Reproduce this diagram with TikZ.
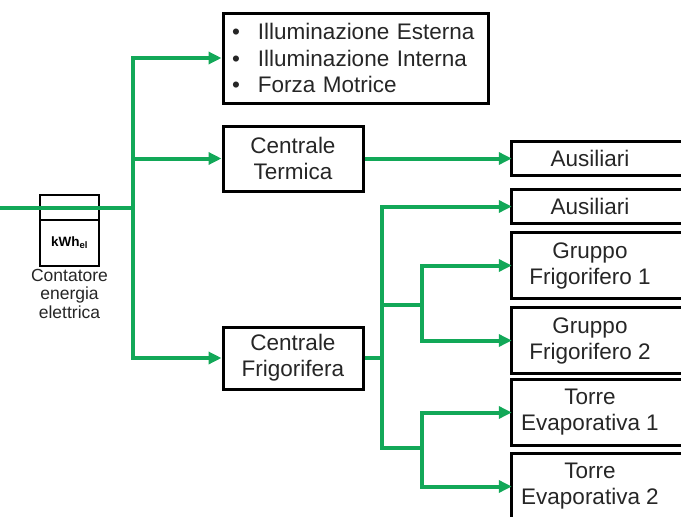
\documentclass[tikz,border=0pt]{standalone}
\usepackage{fontspec}
\setmainfont{Liberation Sans}
\usetikzlibrary{arrows.meta, positioning}
\definecolor{feed}{RGB}{18,168,88}
\tikzstyle{line} = [draw, color=feed, line width=4pt]
\tikzstyle{flow} = [line, -{Triangle[length=13pt,width=12pt]}]
\tikzstyle{box} = [rectangle, draw, line width=3pt, align=center, text=black!85,
  font=\fontsize{22.5}{26}\selectfont, inner sep=0pt]
\tikzstyle{user} = [rectangle, align=center, text=black!85, minimum width=156pt,
  font=\fontsize{22.5}{26}\selectfont, inner sep=0pt]
\tikzstyle{rim} = [draw, line width=3pt]
\tikzstyle{meter} = [rectangle, draw, line width=2pt, minimum width=59pt,
  inner sep=0pt, outer sep=0pt]

\begin{document}
\begin{tikzpicture}[x=1pt, y=-1pt]
    \useasboundingbox (0,0) rectangle (681,517);
    \clip (0,0) rectangle (681,517);

    \node [meter, minimum height=25pt] (meterTop) at (69.5,207.5) {};
    \node [meter, minimum height=46pt, below=0pt of meterTop,
      font=\fontsize{13.5}{13.5}\selectfont\bfseries] (meterBox) {kWh\textsubscript{el}};
    \node [below=3pt of meterBox, align=center, inner sep=0pt, text=black!85,
      font=\fontsize{17.5}{18.5}\selectfont] (meterLabel) {Contatore\\energia\\elettrica};

    \node [box, text width=247pt, inner xsep=9pt, minimum height=90pt, align=left,
      font=\fontsize{22.5}{26.5}\selectfont] (loads) at (355.5,58)
      {\makebox[26pt][l]{\textbullet}Illuminazione Esterna\\
       \makebox[26pt][l]{\textbullet}Illuminazione Interna\\
       \makebox[26pt][l]{\textbullet}Forza Motrice};
    \node [box, minimum width=140pt, minimum height=65pt] (termica) at (293,158.5) {Centrale\\Termica};
    \node [box, minimum width=140pt, minimum height=62pt] (frigo) at (293,358) {Centrale\\Frigorifera};

    \node [user, minimum height=33pt] (ausT) at (590,158.5) {Ausiliari};
    \node [user, minimum height=33pt] (ausF) at (590,206.5) {Ausiliari};
    \node [user, minimum height=65pt] (gruppoA) at (590,265.5) {Gruppo\\Frigorifero 1};
    \node [user, minimum height=65pt] (gruppoB) at (590,340.5) {Gruppo\\Frigorifero 2};
    \node [user, minimum height=65pt] (torreA) at (590,412.5) {Torre\\Evaporativa 1};
    \node [user, minimum height=65pt] (torreB) at (590,486.5) {Torre\\Evaporativa 2};
    % boxes run off the right edge
    \foreach \n in {ausT, ausF, gruppoA, gruppoB, torreA, torreB}
      \draw [rim] (\n.north west) rectangle ([xshift=30pt]\n.south east);

    \coordinate (supply) at (0,208);
    \coordinate (bus) at (133,208);
    \coordinate (fbus) at (382,358);
    \coordinate (gbus) at (422,305);
    \coordinate (tbus) at (422,448);

    \path [line] (supply) -- (bus);
    \path [flow] (bus) |- (loads);
    \path [flow] (bus) |- (termica);
    \path [flow] (bus) |- (frigo);
    \path [flow] (termica) -- (ausT);
    \path [line] (frigo) -- (fbus);
    \path [flow] (fbus) |- (ausF);
    \path [line] (fbus) |- (gbus);
    \path [line] (fbus) |- (tbus);
    \path [flow] (gbus) |- (gruppoA);
    \path [flow] (gbus) |- (gruppoB);
    \path [flow] (tbus) |- (torreA);
    \path [flow] (tbus) |- (torreB);

\end{tikzpicture}
\end{document}
